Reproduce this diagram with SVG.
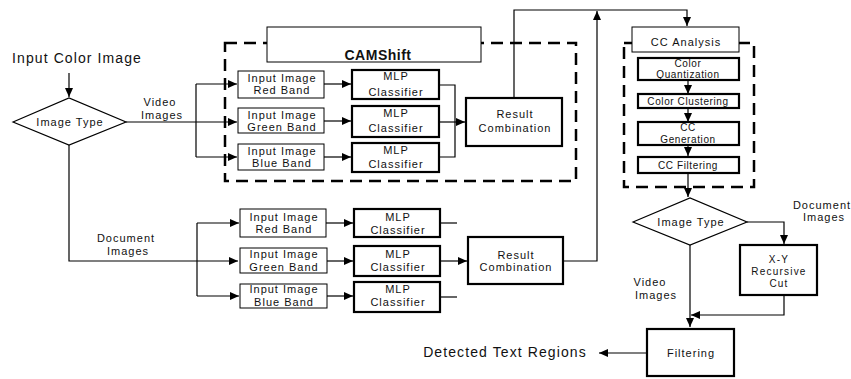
<svg xmlns="http://www.w3.org/2000/svg" width="851" height="379" viewBox="0 0 851 379">
<defs>
<marker id="ah" markerUnits="userSpaceOnUse" markerWidth="10" markerHeight="8" refX="9" refY="4" orient="auto">
<path d="M0,0 L9,4 L0,8 Z" fill="#000"/>
</marker>
<style>
text{font-family:"Liberation Sans",Arial,sans-serif;fill:#111;text-anchor:middle}
.t11{font-size:11px;letter-spacing:1px}
.t10{font-size:10px;letter-spacing:0.6px}
.t10b{font-size:10px;letter-spacing:1.2px}
.t14{font-size:14px;letter-spacing:1.1px}
.b14{font-size:14px;font-weight:bold;letter-spacing:0.5px}
.thin{fill:#fff;stroke:#000;stroke-width:1}
.thick{fill:#fff;stroke:#000;stroke-width:2.2}
.dash{fill:none;stroke:#000;stroke-width:2.5;stroke-dasharray:12 7}
.c{fill:none;stroke:#000;stroke-width:1.2}
.ca{fill:none;stroke:#000;stroke-width:1.2;marker-end:url(#ah)}
</style>
</defs>
<rect width="851" height="379" fill="#fff"/>

<g id="groups">
<rect class="dash" x="225" y="43" width="351" height="138"/>
<rect class="dash" x="624" y="43" width="130" height="144"/>
</g>

<g id="connectors">
<path class="ca" d="M69,73 L69,97"/>
<path class="ca" d="M126,122 L237,122"/>
<path class="c" d="M196,84 L196,157"/>
<path class="ca" d="M196,84 L237,84"/>
<path class="ca" d="M196,157 L237,157"/>
<path class="ca" d="M324,84 L351,84"/>
<path class="ca" d="M324,121 L351,121"/>
<path class="ca" d="M324,157 L351,157"/>
<path class="c" d="M439,85 L455,85 L455,157 L439,157"/>
<path class="ca" d="M439,122 L465,122"/>
<path class="ca" d="M514,98 L514,10 L687,10 L687,26"/>
<path class="ca" d="M69,145 L69,261 L238,261"/>
<path class="c" d="M197,223 L197,296"/>
<path class="ca" d="M197,223 L239,223"/>
<path class="ca" d="M197,296 L239,296"/>
<path class="ca" d="M326,223 L353,223"/>
<path class="ca" d="M327,261 L353,261"/>
<path class="ca" d="M327,296 L353,296"/>
<path class="c" d="M440,223 L457,223"/>
<path class="c" d="M440,297 L457,297"/>
<path class="ca" d="M440,261 L467,261"/>
<path class="ca" d="M563,261 L597,261 L597,11"/>
<path class="ca" d="M688,80 L688,94"/>
<path class="ca" d="M688,108 L688,122"/>
<path class="ca" d="M688,145 L688,156"/>
<path class="ca" d="M688,173 L688,197"/>
<path class="ca" d="M747,222 L784,222 L784,244"/>
<path class="ca" d="M784,295 L784,315 L691,315"/>
<path class="ca" d="M690,245 L690,327"/>
<path class="ca" d="M647,353 L599,353"/>
</g>

<g id="input-color-image"><text class="t14" x="77" y="63">Input Color Image</text></g>

<g id="image-type-1">
<polygon points="13,122 69,98 126,122 69,145" fill="#fff" stroke="#000" stroke-width="1.2"/>
<text class="t11" x="70" y="126">Image Type</text>
</g>
<g id="label-video-1"><text class="t11" x="160" y="106">Video</text><text class="t11" x="162" y="119">Images</text></g>
<g id="label-document-1"><text class="t11" x="126" y="242">Document</text><text class="t11" x="128" y="255">Images</text></g>

<g id="camshift">
<rect class="thin" x="267" y="27" width="214" height="35"/>
<text class="b14" x="378" y="60">CAMShift</text>
</g>

<g id="v-red"><rect class="thin" x="238" y="71" width="86" height="27"/><text class="t11" x="282" y="82">Input Image</text><text class="t11" x="282" y="94">Red Band</text></g>
<g id="v-green"><rect class="thin" x="238" y="108" width="86" height="25"/><text class="t11" x="282" y="119">Input Image</text><text class="t11" x="282" y="131">Green Band</text></g>
<g id="v-blue"><rect class="thin" x="238" y="144" width="86" height="26"/><text class="t11" x="282" y="155">Input Image</text><text class="t11" x="282" y="167">Blue Band</text></g>

<g id="v-mlp-red"><rect class="thick" x="352" y="70" width="87" height="29"/><text class="t11" x="396" y="80">MLP</text><text class="t11" x="396" y="96">Classifier</text></g>
<g id="v-mlp-green"><rect class="thick" x="352" y="106" width="87" height="31"/><text class="t11" x="396" y="117">MLP</text><text class="t11" x="396" y="132">Classifier</text></g>
<g id="v-mlp-blue"><rect class="thick" x="352" y="143" width="87" height="29"/><text class="t11" x="396" y="154">MLP</text><text class="t11" x="396" y="168">Classifier</text></g>

<g id="v-result"><rect class="thick" x="466" y="98" width="96" height="48"/><text class="t11" x="515" y="118">Result</text><text class="t11" x="515" y="132">Combination</text></g>

<g id="d-red"><rect class="thin" x="240" y="209" width="86" height="28"/><text class="t11" x="284" y="221">Input Image</text><text class="t11" x="284" y="233">Red Band</text></g>
<g id="d-green"><rect class="thin" x="240" y="248" width="87" height="25"/><text class="t11" x="284" y="258">Input Image</text><text class="t11" x="284" y="271">Green Band</text></g>
<g id="d-blue"><rect class="thin" x="240" y="284" width="87" height="24"/><text class="t11" x="284" y="293">Input Image</text><text class="t11" x="284" y="306">Blue Band</text></g>

<g id="d-mlp-red"><rect class="thick" x="354" y="209" width="86" height="28"/><text class="t11" x="398" y="221">MLP</text><text class="t11" x="398" y="234">Classifier</text></g>
<g id="d-mlp-green"><rect class="thick" x="354" y="246" width="86" height="30"/><text class="t11" x="398" y="258">MLP</text><text class="t11" x="398" y="271">Classifier</text></g>
<g id="d-mlp-blue"><rect class="thick" x="354" y="282" width="86" height="30"/><text class="t11" x="398" y="293">MLP</text><text class="t11" x="398" y="306">Classifier</text></g>

<g id="d-result"><rect class="thick" x="468" y="237" width="95" height="47"/><text class="t11" x="516" y="259">Result</text><text class="t11" x="516" y="271">Combination</text></g>

<g id="cc-analysis"><rect class="thin" x="632" y="27" width="107" height="25"/><text class="t11" x="686" y="46">CC Analysis</text></g>
<g id="color-quantization"><rect class="thick" x="638" y="58" width="101" height="22"/><text class="t10" x="688" y="67">Color</text><text class="t10" x="688" y="78">Quantization</text></g>
<g id="color-clustering"><rect class="thick" x="638" y="94" width="101" height="14"/><text class="t10" x="688" y="105">Color Clustering</text></g>
<g id="cc-generation"><rect class="thick" x="638" y="122" width="101" height="23"/><text class="t10" x="688" y="131">CC</text><text class="t10" x="688" y="143">Generation</text></g>
<g id="cc-filtering"><rect class="thick" x="638" y="157" width="101" height="16"/><text class="t10" x="688" y="169">CC Filtering</text></g>

<g id="image-type-2">
<polygon points="633,222 690,198 747,222 690,245" fill="#fff" stroke="#000" stroke-width="1.2"/>
<text class="t11" x="691" y="226">Image Type</text>
</g>
<g id="label-document-2"><text class="t11" x="822" y="209">Document</text><text class="t11" x="824" y="221">Images</text></g>
<g id="label-video-2"><text class="t11" x="650" y="286">Video</text><text class="t11" x="656" y="299">Images</text></g>

<g id="xy-cut"><rect class="thick" x="740" y="245" width="77" height="50"/><text class="t10b" x="779" y="263">X-Y</text><text class="t10b" x="779" y="275">Recursive</text><text class="t10b" x="779" y="287">Cut</text></g>

<g id="filtering"><rect class="thick" x="647" y="329" width="87" height="47"/><text class="t11" x="691" y="357">Filtering</text></g>

<g id="detected"><text class="t14" x="505" y="357">Detected Text Regions</text></g>
</svg>
